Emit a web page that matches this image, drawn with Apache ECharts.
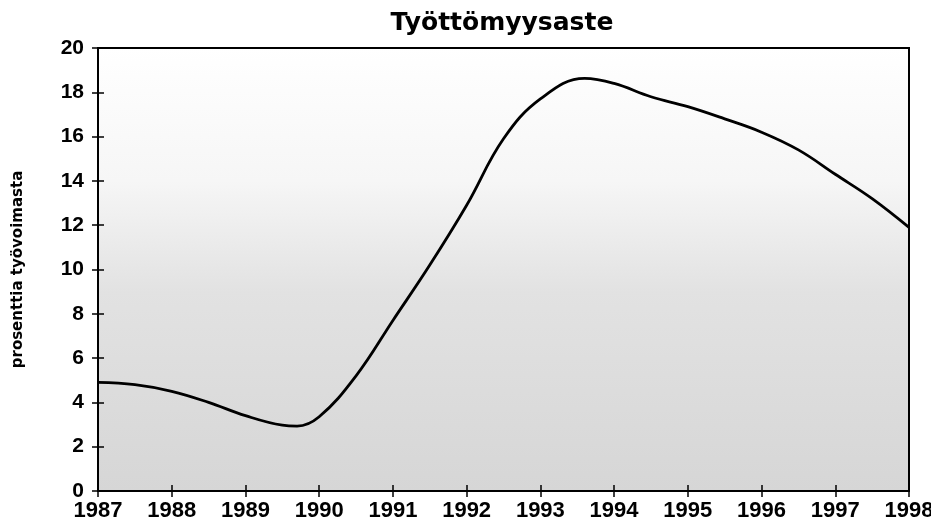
<!DOCTYPE html>
<html>
<head>
<meta charset="utf-8">
<script src="https://cdn.jsdelivr.net/npm/echarts@6/dist/echarts.min.js"></script>
<style>
html,body{margin:0;padding:0;background:#fff;}
#c{width:931px;height:524px;}
</style>
</head>
<body>
<div id="c"></div>
<script>
const titleText = "Työttömyysaste";
const yAxisName = "prosenttia työvoimasta";
const years = [1987.0, 1987.5, 1988.0, 1988.5, 1989.0, 1989.5, 1989.7, 1990.0, 1990.5, 1991.0, 1991.5, 1992.0, 1992.5, 1993.0, 1993.6, 1994.0, 1994.5, 1995.0, 1995.5, 1996.0, 1996.5, 1997.0, 1997.5, 1998.0];
const rate  = [4.9, 4.8, 4.5, 4.0, 3.4, 2.97, 2.93, 3.35, 5.2, 7.7, 10.2, 12.9, 15.9, 17.7, 18.63, 18.4, 17.8, 17.35, 16.8, 16.2, 15.4, 14.3, 13.2, 11.9];
const xTicks = [1987, 1988, 1989, 1990, 1991, 1992, 1993, 1994, 1995, 1996, 1997, 1998];
const yTicks = [0, 2, 4, 6, 8, 10, 12, 14, 16, 18, 20];

const wideFont = "'DejaVu Sans', 'Open Sans', sans-serif";
const numFont = "'Liberation Sans', Arial, sans-serif";
const chart = echarts.init(document.getElementById('c'), null, {renderer: 'canvas'});
const lineData = years.map((y, i) => [y, rate[i]]);
const xMin = xTicks[0], xMax = xTicks[xTicks.length - 1];
const yMin = yTicks[0], yMax = yTicks[yTicks.length - 1];

chart.setOption({
  animation: false,
  title: {
    text: titleText,
    left: 497, top: 6, textAlign: 'center',
    textStyle: {fontFamily: wideFont, fontWeight: 'bold', fontSize: 25, color: '#000'}
  },
  grid: {
    left: 98, right: 22, top: 48, bottom: 33,
    outerBoundsMode: 'none',
    containLabel: false,
    show: true,
    borderColor: '#000', borderWidth: 2,
    backgroundColor: {
      type: 'linear', x: 0, y: 0, x2: 0, y2: 1,
      colorStops: [
        {offset: 0, color: '#ffffff'},
        {offset: 0.3, color: '#f6f6f6'},
        {offset: 0.55, color: '#e2e2e2'},
        {offset: 1, color: '#d6d6d6'}
      ]
    }
  },
  xAxis: [{
    type: 'value', min: xMin, max: xMax, interval: 1,
    axisLine: {show: true, lineStyle: {color: '#000', width: 2}},
    axisTick: {show: true, length: 6, lineStyle: {color: '#000', width: 1.5}},
    axisLabel: {color: '#000', fontFamily: numFont, fontWeight: 'bold', fontSize: 22, margin: 9,
      formatter: v => String(v)},
    splitLine: {show: false}
  }, {
    type: 'value', min: xMin, max: xMax, interval: 1, position: 'bottom', offset: 0,
    axisLine: {show: false},
    axisTick: {show: true, inside: true, length: 6, lineStyle: {color: '#000', width: 1.5}},
    axisLabel: {show: false}, splitLine: {show: false}
  }],
  yAxis: [{
    type: 'value', min: yMin, max: yMax, interval: 2,
    name: yAxisName, nameLocation: 'middle', nameGap: 72, nameRotate: 90,
    nameTextStyle: {color: '#000', fontFamily: wideFont, fontWeight: 'bold', fontSize: 15},
    axisLine: {show: true, lineStyle: {color: '#000', width: 2}},
    axisTick: {show: true, length: 6, lineStyle: {color: '#000', width: 1.5}},
    axisLabel: {color: '#000', fontFamily: numFont, fontWeight: 'bold', fontSize: 21, margin: 14},
    splitLine: {show: false}
  }, {
    type: 'value', min: yMin, max: yMax, interval: 2, position: 'left', offset: 0,
    axisLine: {show: false},
    axisTick: {show: true, inside: true, length: 6, lineStyle: {color: '#000', width: 1.5}},
    axisLabel: {show: false}, splitLine: {show: false}
  }],
  series: [{
    type: 'line',
    data: lineData,
    smooth: 0.4,
    symbol: 'none',
    lineStyle: {color: '#000', width: 2.8},
    xAxisIndex: 0, yAxisIndex: 0
  }]
});
</script>
</body>
</html>
